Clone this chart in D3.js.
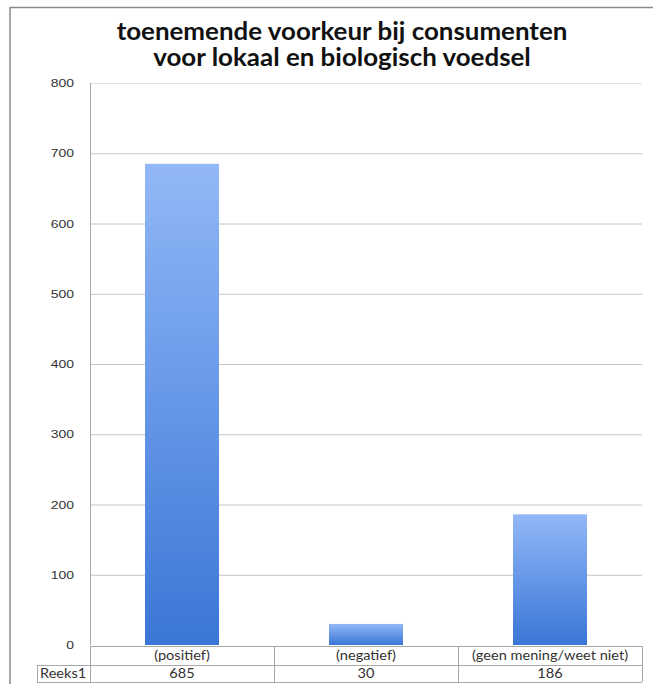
<!DOCTYPE html>
<html>
<head>
<meta charset="utf-8">
<script src="https://cdn.jsdelivr.net/npm/d3@7"></script>
<style>
  body { margin: 0; background: #fff; }
  svg { display: block; }
</style>
</head>
<body>
<svg id="chart" width="653" height="684"></svg>
<script>
// data
const categories = ["(positief)", "(negatief)", "(geen mening/weet niet)"];
const values = [685, 30, 186];
const seriesName = "Reeks1";
const yTicks = [0, 100, 200, 300, 400, 500, 600, 700, 800];
const titleLines = ["toenemende voorkeur bij consumenten", "voor lokaal en biologisch voedsel"];

const svg = d3.select("#chart");

// plot area
const plotLeft = 90, plotRight = 642, plotTop = 83, plotBottom = 645;

const x = d3.scaleBand()
    .domain(categories)
    .range([plotLeft, plotRight])
    .paddingInner(0)
    .paddingOuter(0);

const y = d3.scaleLinear()
    .domain([0, 800])
    .range([plotBottom, plotTop]);

// the source image is stretched sideways, so text gets a small x-scale
function stretched(sel, px, py, sx) {
    return sel.attr("transform", `translate(${px},${py}) scale(${sx},1)`);
}

// gradient for bars
const defs = svg.append("defs");
const grad = defs.append("linearGradient")
    .attr("id", "barGrad")
    .attr("x1", 0).attr("y1", 0)
    .attr("x2", 0).attr("y2", 1);
grad.append("stop").attr("offset", "0%").attr("stop-color", "#92b8f7");
grad.append("stop").attr("offset", "100%").attr("stop-color", "#3a76d7");

// outer frame
svg.append("line")
    .attr("x1", 10).attr("x2", 653).attr("y1", 7.5).attr("y2", 7.5)
    .attr("stroke", "#8a8a8a").attr("stroke-width", 1.5);
svg.append("line")
    .attr("x1", 10).attr("x2", 10).attr("y1", 7).attr("y2", 684)
    .attr("stroke", "#8a8a8a").attr("stroke-width", 1.5);

// title
svg.selectAll(".title")
    .data(titleLines)
    .enter()
    .append("text")
    .attr("class", "title")
    .each(function(d, i) { stretched(d3.select(this), 342, 40 + i * 26, 1.08); })
    .attr("text-anchor", "middle")
    .attr("font-family", "Lato, 'Open Sans', sans-serif")
    .attr("font-weight", "bold")
    .attr("font-size", "24px")
    .attr("fill", "#111")
    .text(d => d);

// gridlines
svg.append("g")
    .attr("transform", `translate(${plotLeft},0)`)
    .call(d3.axisLeft(y).tickValues(yTicks.slice(1, -1)).tickSize(-(plotRight - plotLeft)).tickFormat(""))
    .call(g => g.select(".domain").remove())
    .call(g => g.selectAll("line").attr("stroke", "#c4c4c4").attr("stroke-width", 1));

// faint top gridline
svg.append("line")
    .attr("x1", plotLeft).attr("x2", plotRight)
    .attr("y1", y(800) + 0.5).attr("y2", y(800) + 0.5)
    .attr("stroke", "#e2e2e2");

// y axis line
svg.append("line")
    .attr("x1", plotLeft + 0.5).attr("x2", plotLeft + 0.5)
    .attr("y1", plotTop).attr("y2", plotBottom)
    .attr("stroke", "#aaa");

// y tick labels
svg.selectAll(".ylab")
    .data(yTicks)
    .enter()
    .append("text")
    .attr("class", "ylab")
    .each(function(d) { stretched(d3.select(this), 74, y(d) + 4, 1.4); })
    .attr("text-anchor", "end")
    .attr("font-family", "'Liberation Sans', Arial, sans-serif")
    .attr("font-size", "10px")
    .attr("fill", "#333")
    .text(d => d);

// bars
const barW = 74;
svg.selectAll(".bar")
    .data(values)
    .enter()
    .append("rect")
    .attr("class", "bar")
    .attr("x", (d, i) => x(categories[i]) + x.bandwidth() / 2 - barW / 2)
    .attr("y", d => y(d))
    .attr("width", barW)
    .attr("height", d => y(0) - y(d))
    .attr("fill", "url(#barGrad)");

// data table
const rowTop = 646, rowMid = 665, rowBot = 682, rowLeft = 37;
const table = svg.append("g")
    .attr("stroke", "#a8a8a8")
    .attr("stroke-width", 1)
    .attr("fill", "none");

table.append("line").attr("x1", plotLeft).attr("x2", plotRight).attr("y1", rowTop + 0.5).attr("y2", rowTop + 0.5);
table.append("line").attr("x1", rowLeft).attr("x2", plotRight).attr("y1", rowMid + 0.5).attr("y2", rowMid + 0.5);
table.append("line").attr("x1", rowLeft).attr("x2", plotRight).attr("y1", rowBot + 0.5).attr("y2", rowBot + 0.5);
table.append("line").attr("x1", rowLeft + 0.5).attr("x2", rowLeft + 0.5).attr("y1", rowMid).attr("y2", rowBot);

const bounds = categories.map(c => x(c)).concat([plotRight]);
bounds.forEach(b => {
    table.append("line")
        .attr("x1", Math.round(b) + 0.5).attr("x2", Math.round(b) + 0.5)
        .attr("y1", rowTop).attr("y2", rowBot);
});

const cellFont = "Lato, 'Open Sans', sans-serif";

svg.selectAll(".cat")
    .data(categories)
    .enter()
    .append("text")
    .attr("class", "cat")
    .each(function(d) { stretched(d3.select(this), x(d) + x.bandwidth() / 2, rowTop + 14, 1.12); })
    .attr("text-anchor", "middle")
    .attr("font-family", cellFont)
    .attr("font-size", "13px")
    .attr("fill", "#333")
    .text(d => d);

svg.selectAll(".val")
    .data(values)
    .enter()
    .append("text")
    .attr("class", "val")
    .each(function(d, i) { stretched(d3.select(this), x(categories[i]) + x.bandwidth() / 2, rowMid + 13, 1.12); })
    .attr("text-anchor", "middle")
    .attr("font-family", cellFont)
    .attr("font-size", "13px")
    .attr("fill", "#333")
    .text(d => d);

svg.append("text")
    .call(s => stretched(s, rowLeft + 3, rowMid + 13, 1.12))
    .attr("font-family", cellFont)
    .attr("font-size", "13px")
    .attr("fill", "#333")
    .text(seriesName);
</script>
</body>
</html>
